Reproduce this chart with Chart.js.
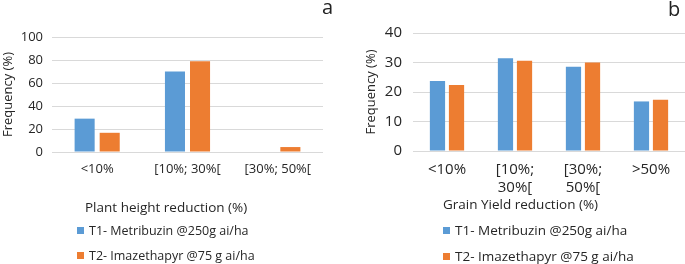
<!DOCTYPE html>
<html>
<head>
<meta charset="utf-8">
<script src="https://cdn.jsdelivr.net/npm/chart.js@4"></script>
<style>
  body { margin: 0; background: #fff; font-family: 'Open Sans', sans-serif; color: #262626; }
  #wrap { position: relative; width: 685px; height: 264px; overflow: hidden; }
  canvas { position: absolute; top: 0; }
  .txt { position: absolute; white-space: nowrap; line-height: 1; }
  .sq { display: inline-block; width: 7px; height: 7px; margin-right: 5px; vertical-align: 1px; }
</style>
</head>
<body>
<div id="wrap">
  <canvas id="chartA" width="340" height="200" style="left:0"></canvas>
  <canvas id="chartB" width="345" height="200" style="left:340px"></canvas>

  <div class="txt" style="left:322px; top:-3px; font-size:20px; color:#222">a</div>
  <div class="txt" style="left:668px; top:-1px; font-size:20px; color:#222">b</div>

  <div class="txt" style="left:85px; top:201px; font-size:13.5px">Plant height reduction (%)</div>
  <div class="txt" style="left:77px; top:225px; font-size:12.5px"><span class="sq" style="background:#5B9BD5"></span>T1- Metribuzin @250g ai/ha</div>
  <div class="txt" style="left:77px; top:250px; font-size:12.5px"><span class="sq" style="background:#ED7D31"></span>T2- Imazethapyr @75 g ai/ha</div>

  <div class="txt" style="left:443px; top:198px; font-size:13.5px">Grain Yield reduction (%)</div>
  <div class="txt" style="left:443px; top:224px; font-size:13.5px"><span class="sq" style="background:#5B9BD5"></span>T1- Metribuzin @250g ai/ha</div>
  <div class="txt" style="left:443px; top:250px; font-size:13.5px"><span class="sq" style="background:#ED7D31"></span>T2- Imazethapyr @75 g ai/ha</div>
</div>
<script>
// Data
const heightCats = ['<10%', '[10%; 30%[', '[30%; 50%['];
const heightT1 = [29, 70, 0];
const heightT2 = [16.7, 79, 4.3];

const yieldCats = [['<10%'], ['[10%;', '30%['], ['[30%;', '50%['], ['>50%']];
const yieldT1 = [23.7, 31.4, 28.6, 16.8];
const yieldT2 = [22.4, 30.6, 30.0, 17.4];

const seriesNames = ['T1- Metribuzin @250g ai/ha', 'T2- Imazethapyr @75 g ai/ha'];
const blue = '#5B9BD5';
const orange = '#ED7D31';
const gridColor = '#d9d9d9';
const textColor = '#262626';
const fontFamily = "'Open Sans', sans-serif";

function makeChart(id, cats, t1, t2, opts) {
    return new Chart(document.getElementById(id), {
        type: 'bar',
        data: {
            labels: cats,
            datasets: [
                { label: seriesNames[0], data: t1, backgroundColor: blue,
                  categoryPercentage: opts.catPct, barPercentage: 0.8 },
                { label: seriesNames[1], data: t2, backgroundColor: orange,
                  categoryPercentage: opts.catPct, barPercentage: 0.8 }
            ]
        },
        options: {
            responsive: false,
            animation: false,
            layout: { padding: opts.padding },
            plugins: { legend: { display: false }, tooltip: { enabled: false } },
            scales: {
                x: {
                    grid: { display: false, drawTicks: false },
                    border: { display: false },
                    ticks: { color: textColor, padding: 9, maxRotation: 0, autoSkip: false,
                             font: { family: fontFamily, size: opts.tickSize, lineHeight: 1.25 } },
                    afterFit: s => { s.height = opts.xHeight; }
                },
                y: {
                    min: 0, max: opts.max,
                    grid: { color: gridColor, drawTicks: false },
                    border: { display: false },
                    ticks: { stepSize: opts.step, color: textColor, padding: opts.tickPad,
                             font: { family: fontFamily, size: opts.tickSize } },
                    title: { display: true, text: 'Frequency (%)', color: textColor,
                             padding: { top: 0, bottom: 0 },
                             font: { family: fontFamily, size: 13 } },
                    afterFit: s => { s.width = opts.yWidth; }
                }
            }
        }
    });
}

makeChart('chartA', heightCats, heightT1, heightT2, {
    max: 100, step: 20, tickSize: 13, tickPad: 9, catPct: 0.555,
    padding: { left: 0, top: 37, right: 17, bottom: 0 }, yWidth: 52, xHeight: 48
});

makeChart('chartB', yieldCats, yieldT1, yieldT2, {
    max: 40, step: 10, tickSize: 15, tickPad: 11, catPct: 0.56,
    padding: { left: 23, top: 33, right: 0, bottom: 0 }, yWidth: 50, xHeight: 49
});
</script>
</body>
</html>
